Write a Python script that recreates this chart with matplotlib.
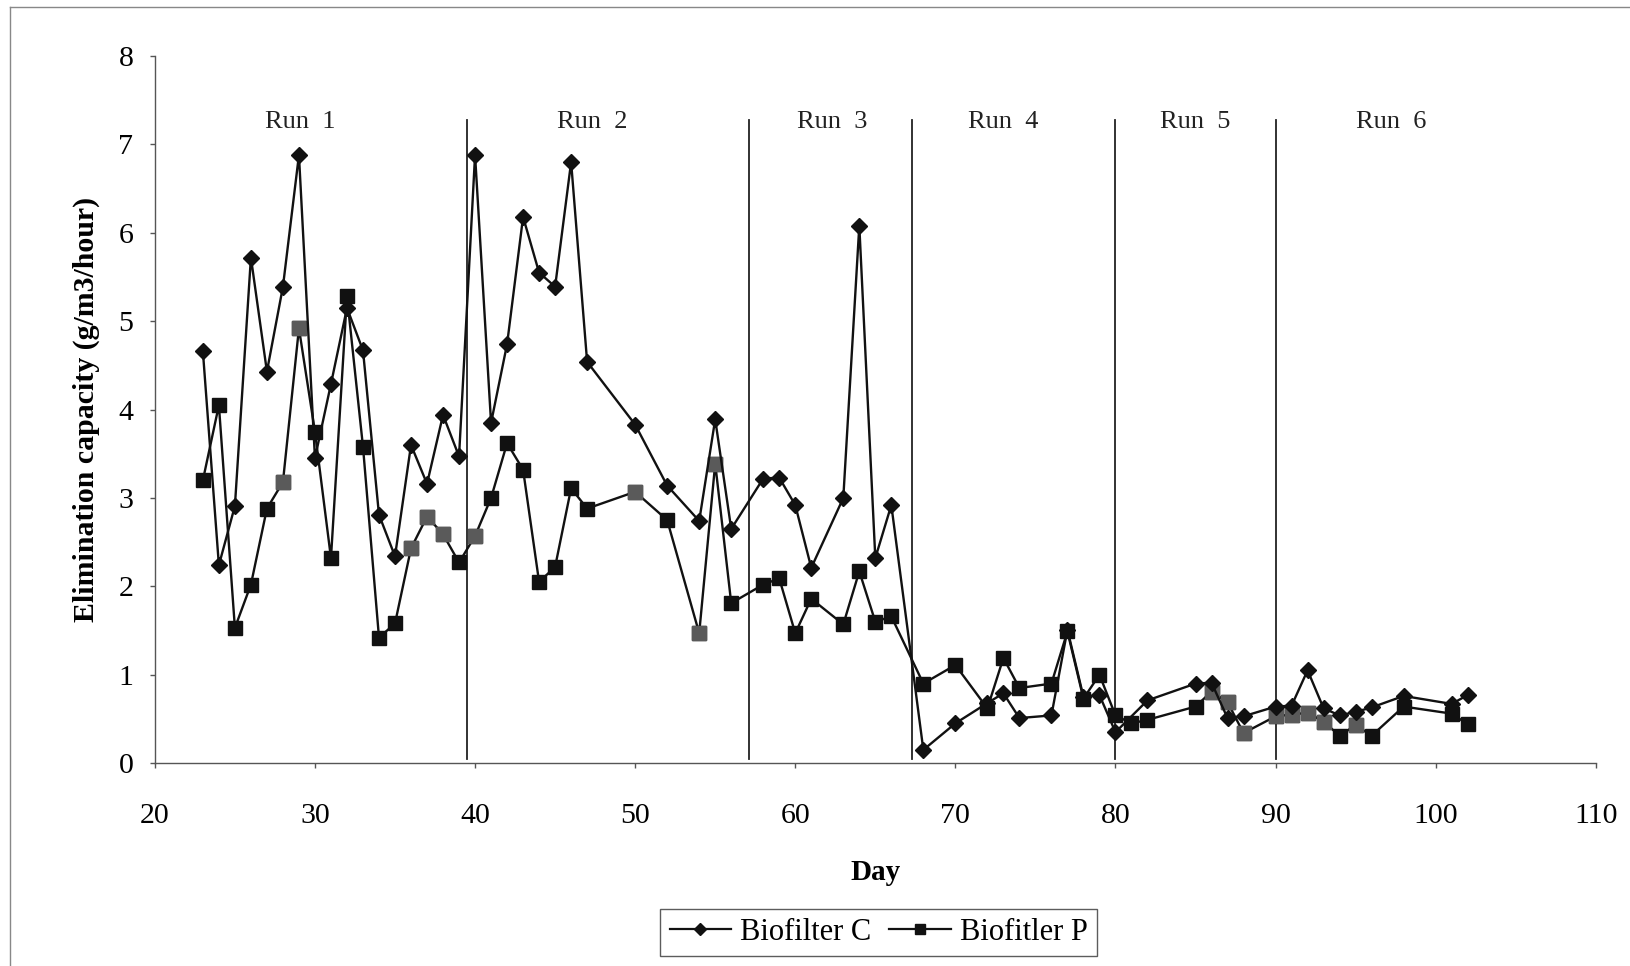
import matplotlib
matplotlib.use("Agg")
import matplotlib.pyplot as plt
from matplotlib.lines import Line2D

plt.rcParams['font.family'] = ['Liberation Serif', 'DejaVu Serif']

days_c = [23, 24, 25, 26, 27, 28, 29, 30, 31, 32, 33, 34, 35, 36, 37, 38, 39, 40, 41, 42,
          43, 44, 45, 46, 47, 50, 52, 54, 55, 56, 58, 59, 60, 61, 63, 64, 65, 66, 68, 70,
          72, 73, 74, 76, 77, 78, 79, 80, 82, 85, 86, 87, 88, 90, 91, 92, 93, 94, 95, 96,
          98, 101, 102]
ec_c = [4.66, 2.24, 2.91, 5.72, 4.43, 5.39, 6.88, 3.45, 4.29, 5.15, 4.67, 2.81, 2.34, 3.60,
        3.16, 3.94, 3.47, 6.88, 3.85, 4.74, 6.18, 5.55, 5.39, 6.80, 4.54, 3.83, 3.14, 2.74,
        3.89, 2.65, 3.22, 3.23, 2.92, 2.21, 3.00, 6.08, 2.32, 2.92, 0.15, 0.45, 0.68, 0.79,
        0.51, 0.54, 1.51, 0.75, 0.77, 0.35, 0.71, 0.90, 0.91, 0.51, 0.53, 0.64, 0.65, 1.05,
        0.62, 0.54, 0.58, 0.63, 0.76, 0.67, 0.77]

days_p = [23, 24, 25, 26, 27, 28, 29, 30, 31, 32, 33, 34, 35, 36, 37, 38, 39, 40, 41, 42,
          43, 44, 45, 46, 47, 50, 52, 54, 55, 56, 58, 59, 60, 61, 63, 64, 65, 66, 68, 70,
          72, 73, 74, 76, 77, 78, 79, 80, 81, 82, 85, 86, 87, 88, 90, 91, 92, 93, 94, 95,
          96, 98, 101, 102]
ec_p = [3.20, 4.05, 1.53, 2.02, 2.88, 3.18, 4.92, 3.75, 2.32, 5.28, 3.58, 1.42, 1.58, 2.43,
        2.79, 2.59, 2.27, 2.57, 3.00, 3.62, 3.32, 2.05, 2.22, 3.11, 2.88, 3.07, 2.75, 1.47,
        3.39, 1.81, 2.02, 2.09, 1.47, 1.86, 1.57, 2.17, 1.60, 1.66, 0.90, 1.11, 0.62, 1.19,
        0.85, 0.90, 1.49, 0.73, 1.00, 0.54, 0.45, 0.49, 0.64, 0.81, 0.69, 0.34, 0.53, 0.55,
        0.57, 0.47, 0.31, 0.43, 0.31, 0.64, 0.56, 0.44]
# days whose square markers appear grey in the scan
grey_days_p = [28, 29, 36, 37, 38, 40, 50, 54, 55, 86, 87, 88, 90, 91, 92, 93, 95]

run_bounds = [39.5, 57.1, 67.3, 80.0, 90.0]
run_labels = ["Run  1", "Run  2", "Run  3", "Run  4", "Run  5", "Run  6"]
run_label_x = [29.1, 47.3, 62.3, 73.0, 85.0, 97.2]

fig = plt.figure(figsize=(16.3, 9.66), dpi=100)
ax = fig.add_axes([0.095, 0.210, 0.884, 0.732])

ax.plot(days_p, ec_p, color='#111111', lw=1.7, marker='s', ms=9.5,
        mfc='#111111', mec='#111111', zorder=3)
gx = [d for d in days_p if d in grey_days_p]
gy = [v for d, v in zip(days_p, ec_p) if d in grey_days_p]
ax.plot(gx, gy, ls='none', marker='s', ms=9.5, mfc='#5a5a5a', mec='#5a5a5a', zorder=4)
ax.plot(days_c, ec_c, color='#111111', lw=1.7, marker='D', ms=7.8,
        mfc='#111111', mec='#111111', zorder=5)

for b in run_bounds:
    ax.plot([b, b], [0.05, 7.28], color='#222222', lw=1.3, zorder=2)
for lx, lab in zip(run_label_x, run_labels):
    ax.text(lx, 7.25, lab, ha='center', va='center', fontsize=19, color='#222222')

ax.set_xlim(20, 110)
ax.set_ylim(0, 8)
ax.set_xticks(range(20, 111, 10))
ax.set_yticks(range(0, 9))
ax.spines['top'].set_visible(False)
ax.spines['right'].set_visible(False)
for s in ['left', 'bottom']:
    ax.spines[s].set_linewidth(1.0)
    ax.spines[s].set_color('#555555')
ax.tick_params(axis='both', direction='out', length=3.5, width=1.0, color='#555555',
               labelsize=21.5)
ax.tick_params(axis='x', pad=25)
ax.tick_params(axis='y', pad=12)
ax.set_xlabel("Day", fontsize=21, fontweight='bold', labelpad=22)
ax.set_ylabel("Elimination capacity (g/m3/hour)", fontsize=21.5, fontweight='bold', labelpad=13)

h_c = Line2D([], [], color='#111111', lw=1.6, marker='D', ms=6, mfc='#111111')
h_p = Line2D([], [], color='#111111', lw=1.6, marker='s', ms=7, mfc='#111111')
leg = fig.legend([h_c, h_p], ["Biofilter C", "Biofitler P"], loc='center',
                 bbox_to_anchor=(0.539, 0.035), ncol=2, fontsize=22, frameon=True,
                 fancybox=False, edgecolor='#333333', handlelength=2.0,
                 handletextpad=0.3, columnspacing=0.6, borderpad=0.3)
leg.get_frame().set_linewidth(1.0)

# outer chart border (top and left)
fig.add_artist(Line2D([0.006, 1.0], [0.993, 0.993], color='#888888', lw=1.0))
fig.add_artist(Line2D([0.006, 0.006], [0.0, 0.993], color='#888888', lw=1.0))

fig.savefig("out.png", dpi=100)
